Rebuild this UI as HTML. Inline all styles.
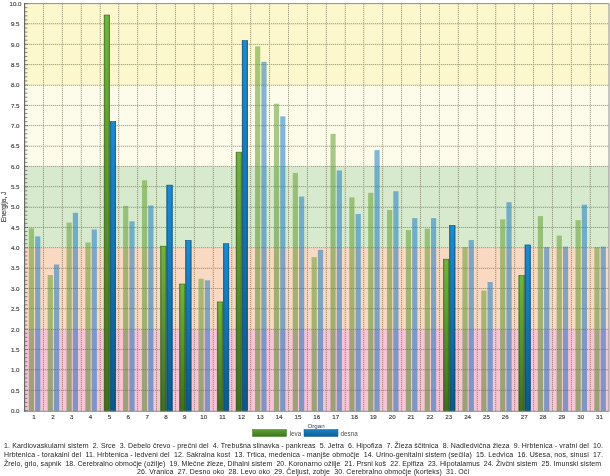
<!DOCTYPE html><html><head><meta charset="utf-8"><title>Chart</title><style>html,body{margin:0;padding:0;background:#fff}svg{display:block}text{font-family:"Liberation Sans",sans-serif}</style></head><body>
<svg width="610" height="476" viewBox="0 0 610 476">
<defs>
<linearGradient id="gv" x1="0" x2="0" y1="0" y2="1"><stop offset="0" stop-color="#70b63d"/><stop offset="1" stop-color="#3f6e20"/></linearGradient>
<linearGradient id="bv" x1="0" x2="0" y1="0" y2="1"><stop offset="0" stop-color="#1b8cd5"/><stop offset="1" stop-color="#0a5a88"/></linearGradient>
<linearGradient id="gd" x1="0" x2="0" y1="0" y2="1"><stop offset="0" stop-color="#64a032"/><stop offset="1" stop-color="#4f8428"/></linearGradient>
<linearGradient id="bd" x1="0" x2="0" y1="0" y2="1"><stop offset="0" stop-color="#1e7dc4"/><stop offset="1" stop-color="#1971b4"/></linearGradient>
<linearGradient id="eh" x1="0" x2="1" y1="0" y2="0"><stop offset="0" stop-color="#000" stop-opacity="0.22"/><stop offset="0.3" stop-color="#000" stop-opacity="0"/><stop offset="0.7" stop-color="#000" stop-opacity="0"/><stop offset="1" stop-color="#000" stop-opacity="0.22"/></linearGradient>
<linearGradient id="lg" x1="0" x2="0" y1="0" y2="1"><stop offset="0" stop-color="#5f9f31"/><stop offset="1" stop-color="#3f7520"/></linearGradient>
<linearGradient id="lb" x1="0" x2="0" y1="0" y2="1"><stop offset="0" stop-color="#1a80c4"/><stop offset="1" stop-color="#0e5e95"/></linearGradient>
</defs>
<rect width="610" height="476" fill="#fff"/>
<rect x="24.60" y="3.60" width="584.40" height="81.40" fill="#fcf7cd"/>
<rect x="24.60" y="85.00" width="584.40" height="81.40" fill="#fdfcea"/>
<rect x="24.60" y="166.40" width="584.40" height="81.40" fill="#d7eacd"/>
<rect x="24.60" y="247.80" width="584.40" height="81.40" fill="#f9d9c2"/>
<rect x="24.60" y="329.20" width="584.40" height="82.10" fill="#f7c3d5"/>
<g stroke="#6a6448" stroke-width="1" opacity="0.22"><line x1="24.60" y1="390.25" x2="609.00" y2="390.25"/><line x1="24.60" y1="369.90" x2="609.00" y2="369.90"/><line x1="24.60" y1="349.55" x2="609.00" y2="349.55"/><line x1="24.60" y1="329.20" x2="609.00" y2="329.20"/><line x1="24.60" y1="308.85" x2="609.00" y2="308.85"/><line x1="24.60" y1="288.50" x2="609.00" y2="288.50"/><line x1="24.60" y1="268.15" x2="609.00" y2="268.15"/><line x1="24.60" y1="247.80" x2="609.00" y2="247.80"/><line x1="24.60" y1="227.45" x2="609.00" y2="227.45"/><line x1="24.60" y1="207.10" x2="609.00" y2="207.10"/><line x1="24.60" y1="186.75" x2="609.00" y2="186.75"/><line x1="24.60" y1="166.40" x2="609.00" y2="166.40"/><line x1="24.60" y1="146.05" x2="609.00" y2="146.05"/><line x1="24.60" y1="125.70" x2="609.00" y2="125.70"/><line x1="24.60" y1="105.35" x2="609.00" y2="105.35"/><line x1="24.60" y1="85.00" x2="609.00" y2="85.00"/><line x1="24.60" y1="64.65" x2="609.00" y2="64.65"/><line x1="24.60" y1="44.30" x2="609.00" y2="44.30"/><line x1="24.60" y1="23.95" x2="609.00" y2="23.95"/><line x1="43.45" y1="3.60" x2="43.45" y2="411.30"/><line x1="62.30" y1="3.60" x2="62.30" y2="411.30"/><line x1="81.15" y1="3.60" x2="81.15" y2="411.30"/><line x1="100.01" y1="3.60" x2="100.01" y2="411.30"/><line x1="118.86" y1="3.60" x2="118.86" y2="411.30"/><line x1="137.71" y1="3.60" x2="137.71" y2="411.30"/><line x1="156.56" y1="3.60" x2="156.56" y2="411.30"/><line x1="175.41" y1="3.60" x2="175.41" y2="411.30"/><line x1="194.26" y1="3.60" x2="194.26" y2="411.30"/><line x1="213.12" y1="3.60" x2="213.12" y2="411.30"/><line x1="231.97" y1="3.60" x2="231.97" y2="411.30"/><line x1="250.82" y1="3.60" x2="250.82" y2="411.30"/><line x1="269.67" y1="3.60" x2="269.67" y2="411.30"/><line x1="288.52" y1="3.60" x2="288.52" y2="411.30"/><line x1="307.37" y1="3.60" x2="307.37" y2="411.30"/><line x1="326.23" y1="3.60" x2="326.23" y2="411.30"/><line x1="345.08" y1="3.60" x2="345.08" y2="411.30"/><line x1="363.93" y1="3.60" x2="363.93" y2="411.30"/><line x1="382.78" y1="3.60" x2="382.78" y2="411.30"/><line x1="401.63" y1="3.60" x2="401.63" y2="411.30"/><line x1="420.48" y1="3.60" x2="420.48" y2="411.30"/><line x1="439.34" y1="3.60" x2="439.34" y2="411.30"/><line x1="458.19" y1="3.60" x2="458.19" y2="411.30"/><line x1="477.04" y1="3.60" x2="477.04" y2="411.30"/><line x1="495.89" y1="3.60" x2="495.89" y2="411.30"/><line x1="514.74" y1="3.60" x2="514.74" y2="411.30"/><line x1="533.59" y1="3.60" x2="533.59" y2="411.30"/><line x1="552.45" y1="3.60" x2="552.45" y2="411.30"/><line x1="571.30" y1="3.60" x2="571.30" y2="411.30"/><line x1="590.15" y1="3.60" x2="590.15" y2="411.30"/></g>
<g stroke="#5a5440" stroke-width="1" stroke-dasharray="1 1" opacity="0.32" shape-rendering="crispEdges"><line x1="24.60" y1="390.25" x2="609.00" y2="390.25"/><line x1="24.60" y1="369.90" x2="609.00" y2="369.90"/><line x1="24.60" y1="349.55" x2="609.00" y2="349.55"/><line x1="24.60" y1="329.20" x2="609.00" y2="329.20"/><line x1="24.60" y1="308.85" x2="609.00" y2="308.85"/><line x1="24.60" y1="288.50" x2="609.00" y2="288.50"/><line x1="24.60" y1="268.15" x2="609.00" y2="268.15"/><line x1="24.60" y1="247.80" x2="609.00" y2="247.80"/><line x1="24.60" y1="227.45" x2="609.00" y2="227.45"/><line x1="24.60" y1="207.10" x2="609.00" y2="207.10"/><line x1="24.60" y1="186.75" x2="609.00" y2="186.75"/><line x1="24.60" y1="166.40" x2="609.00" y2="166.40"/><line x1="24.60" y1="146.05" x2="609.00" y2="146.05"/><line x1="24.60" y1="125.70" x2="609.00" y2="125.70"/><line x1="24.60" y1="105.35" x2="609.00" y2="105.35"/><line x1="24.60" y1="85.00" x2="609.00" y2="85.00"/><line x1="24.60" y1="64.65" x2="609.00" y2="64.65"/><line x1="24.60" y1="44.30" x2="609.00" y2="44.30"/><line x1="24.60" y1="23.95" x2="609.00" y2="23.95"/><line x1="43.45" y1="3.60" x2="43.45" y2="411.30"/><line x1="62.30" y1="3.60" x2="62.30" y2="411.30"/><line x1="81.15" y1="3.60" x2="81.15" y2="411.30"/><line x1="100.01" y1="3.60" x2="100.01" y2="411.30"/><line x1="118.86" y1="3.60" x2="118.86" y2="411.30"/><line x1="137.71" y1="3.60" x2="137.71" y2="411.30"/><line x1="156.56" y1="3.60" x2="156.56" y2="411.30"/><line x1="175.41" y1="3.60" x2="175.41" y2="411.30"/><line x1="194.26" y1="3.60" x2="194.26" y2="411.30"/><line x1="213.12" y1="3.60" x2="213.12" y2="411.30"/><line x1="231.97" y1="3.60" x2="231.97" y2="411.30"/><line x1="250.82" y1="3.60" x2="250.82" y2="411.30"/><line x1="269.67" y1="3.60" x2="269.67" y2="411.30"/><line x1="288.52" y1="3.60" x2="288.52" y2="411.30"/><line x1="307.37" y1="3.60" x2="307.37" y2="411.30"/><line x1="326.23" y1="3.60" x2="326.23" y2="411.30"/><line x1="345.08" y1="3.60" x2="345.08" y2="411.30"/><line x1="363.93" y1="3.60" x2="363.93" y2="411.30"/><line x1="382.78" y1="3.60" x2="382.78" y2="411.30"/><line x1="401.63" y1="3.60" x2="401.63" y2="411.30"/><line x1="420.48" y1="3.60" x2="420.48" y2="411.30"/><line x1="439.34" y1="3.60" x2="439.34" y2="411.30"/><line x1="458.19" y1="3.60" x2="458.19" y2="411.30"/><line x1="477.04" y1="3.60" x2="477.04" y2="411.30"/><line x1="495.89" y1="3.60" x2="495.89" y2="411.30"/><line x1="514.74" y1="3.60" x2="514.74" y2="411.30"/><line x1="533.59" y1="3.60" x2="533.59" y2="411.30"/><line x1="552.45" y1="3.60" x2="552.45" y2="411.30"/><line x1="571.30" y1="3.60" x2="571.30" y2="411.30"/><line x1="590.15" y1="3.60" x2="590.15" y2="411.30"/></g>
<rect x="28.83" y="228.26" width="5.20" height="183.04" fill="url(#gd)" opacity="0.55"/>
<rect x="35.13" y="236.40" width="5.20" height="174.90" fill="url(#bd)" opacity="0.55"/>
<rect x="47.68" y="275.07" width="5.20" height="136.23" fill="url(#gd)" opacity="0.55"/>
<rect x="53.98" y="264.49" width="5.20" height="146.81" fill="url(#bd)" opacity="0.55"/>
<rect x="66.53" y="222.57" width="5.20" height="188.73" fill="url(#gd)" opacity="0.55"/>
<rect x="72.83" y="212.80" width="5.20" height="198.50" fill="url(#bd)" opacity="0.55"/>
<rect x="85.38" y="242.51" width="5.20" height="168.79" fill="url(#gd)" opacity="0.55"/>
<rect x="91.68" y="229.49" width="5.20" height="181.81" fill="url(#bd)" opacity="0.55"/>
<rect x="104.13" y="15.00" width="5.50" height="396.30" fill="url(#gv)"/><rect x="104.13" y="15.00" width="5.50" height="396.30" fill="url(#eh)" stroke="#386619" stroke-width="0.6"/>
<rect x="110.23" y="121.63" width="5.50" height="289.67" fill="url(#bv)"/><rect x="110.23" y="121.63" width="5.50" height="289.67" fill="url(#eh)" stroke="#0a4f7c" stroke-width="0.6"/>
<rect x="123.08" y="205.88" width="5.20" height="205.42" fill="url(#gd)" opacity="0.55"/>
<rect x="129.38" y="221.34" width="5.20" height="189.96" fill="url(#bd)" opacity="0.55"/>
<rect x="141.94" y="180.24" width="5.20" height="231.06" fill="url(#gd)" opacity="0.55"/>
<rect x="148.24" y="205.47" width="5.20" height="205.83" fill="url(#bd)" opacity="0.55"/>
<rect x="160.69" y="246.17" width="5.50" height="165.13" fill="url(#gv)"/><rect x="160.69" y="246.17" width="5.50" height="165.13" fill="url(#eh)" stroke="#386619" stroke-width="0.6"/>
<rect x="166.79" y="185.12" width="5.50" height="226.18" fill="url(#bv)"/><rect x="166.79" y="185.12" width="5.50" height="226.18" fill="url(#eh)" stroke="#0a4f7c" stroke-width="0.6"/>
<rect x="179.54" y="284.02" width="5.50" height="127.28" fill="url(#gv)"/><rect x="179.54" y="284.02" width="5.50" height="127.28" fill="url(#eh)" stroke="#386619" stroke-width="0.6"/>
<rect x="185.64" y="240.47" width="5.50" height="170.83" fill="url(#bv)"/><rect x="185.64" y="240.47" width="5.50" height="170.83" fill="url(#eh)" stroke="#0a4f7c" stroke-width="0.6"/>
<rect x="198.49" y="278.73" width="5.20" height="132.57" fill="url(#gd)" opacity="0.55"/>
<rect x="204.79" y="280.36" width="5.20" height="130.94" fill="url(#bd)" opacity="0.55"/>
<rect x="217.24" y="301.93" width="5.50" height="109.37" fill="url(#gv)"/><rect x="217.24" y="301.93" width="5.50" height="109.37" fill="url(#eh)" stroke="#386619" stroke-width="0.6"/>
<rect x="223.34" y="243.73" width="5.50" height="167.57" fill="url(#bv)"/><rect x="223.34" y="243.73" width="5.50" height="167.57" fill="url(#eh)" stroke="#0a4f7c" stroke-width="0.6"/>
<rect x="236.09" y="152.16" width="5.50" height="259.14" fill="url(#gv)"/><rect x="236.09" y="152.16" width="5.50" height="259.14" fill="url(#eh)" stroke="#386619" stroke-width="0.6"/>
<rect x="242.19" y="40.64" width="5.50" height="370.66" fill="url(#bv)"/><rect x="242.19" y="40.64" width="5.50" height="370.66" fill="url(#eh)" stroke="#0a4f7c" stroke-width="0.6"/>
<rect x="255.05" y="46.34" width="5.20" height="364.96" fill="url(#gd)" opacity="0.55"/>
<rect x="261.35" y="61.80" width="5.20" height="349.50" fill="url(#bd)" opacity="0.55"/>
<rect x="273.90" y="103.72" width="5.20" height="307.58" fill="url(#gd)" opacity="0.55"/>
<rect x="280.20" y="116.34" width="5.20" height="294.96" fill="url(#bd)" opacity="0.55"/>
<rect x="292.75" y="172.91" width="5.20" height="238.39" fill="url(#gd)" opacity="0.55"/>
<rect x="299.05" y="196.52" width="5.20" height="214.78" fill="url(#bd)" opacity="0.55"/>
<rect x="311.60" y="257.16" width="5.20" height="154.14" fill="url(#gd)" opacity="0.55"/>
<rect x="317.90" y="249.84" width="5.20" height="161.47" fill="url(#bd)" opacity="0.55"/>
<rect x="330.45" y="133.84" width="5.20" height="277.46" fill="url(#gd)" opacity="0.55"/>
<rect x="336.75" y="170.47" width="5.20" height="240.83" fill="url(#bd)" opacity="0.55"/>
<rect x="349.30" y="197.33" width="5.20" height="213.97" fill="url(#gd)" opacity="0.55"/>
<rect x="355.60" y="214.02" width="5.20" height="197.28" fill="url(#bd)" opacity="0.55"/>
<rect x="368.15" y="192.86" width="5.20" height="218.44" fill="url(#gd)" opacity="0.55"/>
<rect x="374.45" y="150.12" width="5.20" height="261.18" fill="url(#bd)" opacity="0.55"/>
<rect x="387.01" y="209.95" width="5.20" height="201.35" fill="url(#gd)" opacity="0.55"/>
<rect x="393.31" y="191.23" width="5.20" height="220.07" fill="url(#bd)" opacity="0.55"/>
<rect x="405.86" y="229.89" width="5.20" height="181.41" fill="url(#gd)" opacity="0.55"/>
<rect x="412.16" y="218.09" width="5.20" height="193.21" fill="url(#bd)" opacity="0.55"/>
<rect x="424.71" y="228.67" width="5.20" height="182.63" fill="url(#gd)" opacity="0.55"/>
<rect x="431.01" y="218.09" width="5.20" height="193.21" fill="url(#bd)" opacity="0.55"/>
<rect x="443.46" y="259.20" width="5.50" height="152.10" fill="url(#gv)"/><rect x="443.46" y="259.20" width="5.50" height="152.10" fill="url(#eh)" stroke="#386619" stroke-width="0.6"/>
<rect x="449.56" y="225.42" width="5.50" height="185.88" fill="url(#bv)"/><rect x="449.56" y="225.42" width="5.50" height="185.88" fill="url(#eh)" stroke="#0a4f7c" stroke-width="0.6"/>
<rect x="462.41" y="246.99" width="5.20" height="164.31" fill="url(#gd)" opacity="0.55"/>
<rect x="468.71" y="240.07" width="5.20" height="171.23" fill="url(#bd)" opacity="0.55"/>
<rect x="481.26" y="290.54" width="5.20" height="120.76" fill="url(#gd)" opacity="0.55"/>
<rect x="487.56" y="281.99" width="5.20" height="129.31" fill="url(#bd)" opacity="0.55"/>
<rect x="500.12" y="219.31" width="5.20" height="191.99" fill="url(#gd)" opacity="0.55"/>
<rect x="506.42" y="202.22" width="5.20" height="209.08" fill="url(#bd)" opacity="0.55"/>
<rect x="518.87" y="275.48" width="5.50" height="135.82" fill="url(#gv)"/><rect x="518.87" y="275.48" width="5.50" height="135.82" fill="url(#eh)" stroke="#386619" stroke-width="0.6"/>
<rect x="524.97" y="244.95" width="5.50" height="166.35" fill="url(#bv)"/><rect x="524.97" y="244.95" width="5.50" height="166.35" fill="url(#eh)" stroke="#0a4f7c" stroke-width="0.6"/>
<rect x="537.82" y="216.05" width="5.20" height="195.25" fill="url(#gd)" opacity="0.55"/>
<rect x="544.12" y="246.99" width="5.20" height="164.31" fill="url(#bd)" opacity="0.55"/>
<rect x="556.67" y="235.59" width="5.20" height="175.71" fill="url(#gd)" opacity="0.55"/>
<rect x="562.97" y="246.58" width="5.20" height="164.72" fill="url(#bd)" opacity="0.55"/>
<rect x="575.52" y="220.12" width="5.20" height="191.18" fill="url(#gd)" opacity="0.55"/>
<rect x="581.82" y="204.66" width="5.20" height="206.64" fill="url(#bd)" opacity="0.55"/>
<rect x="594.37" y="246.99" width="5.20" height="164.31" fill="url(#gd)" opacity="0.55"/>
<rect x="600.67" y="246.58" width="5.20" height="164.72" fill="url(#bd)" opacity="0.55"/>
<path d="M24.60 3.60 H609.00 V411.30 H24.60" fill="none" stroke="#8e8e8e" stroke-width="1"/>
<line x1="24.60" y1="3.10" x2="24.60" y2="411.80" stroke="#626262" stroke-width="1.1"/>
<g stroke="#666" stroke-width="0.8"><line x1="24.60" y1="410.60" x2="28.00" y2="410.60"/><line x1="24.60" y1="406.53" x2="27.40" y2="406.53"/><line x1="24.60" y1="402.46" x2="27.40" y2="402.46"/><line x1="24.60" y1="398.39" x2="27.40" y2="398.39"/><line x1="24.60" y1="394.32" x2="27.40" y2="394.32"/><line x1="24.60" y1="390.25" x2="28.00" y2="390.25"/><line x1="24.60" y1="386.18" x2="27.40" y2="386.18"/><line x1="24.60" y1="382.11" x2="27.40" y2="382.11"/><line x1="24.60" y1="378.04" x2="27.40" y2="378.04"/><line x1="24.60" y1="373.97" x2="27.40" y2="373.97"/><line x1="24.60" y1="369.90" x2="28.00" y2="369.90"/><line x1="24.60" y1="365.83" x2="27.40" y2="365.83"/><line x1="24.60" y1="361.76" x2="27.40" y2="361.76"/><line x1="24.60" y1="357.69" x2="27.40" y2="357.69"/><line x1="24.60" y1="353.62" x2="27.40" y2="353.62"/><line x1="24.60" y1="349.55" x2="28.00" y2="349.55"/><line x1="24.60" y1="345.48" x2="27.40" y2="345.48"/><line x1="24.60" y1="341.41" x2="27.40" y2="341.41"/><line x1="24.60" y1="337.34" x2="27.40" y2="337.34"/><line x1="24.60" y1="333.27" x2="27.40" y2="333.27"/><line x1="24.60" y1="329.20" x2="28.00" y2="329.20"/><line x1="24.60" y1="325.13" x2="27.40" y2="325.13"/><line x1="24.60" y1="321.06" x2="27.40" y2="321.06"/><line x1="24.60" y1="316.99" x2="27.40" y2="316.99"/><line x1="24.60" y1="312.92" x2="27.40" y2="312.92"/><line x1="24.60" y1="308.85" x2="28.00" y2="308.85"/><line x1="24.60" y1="304.78" x2="27.40" y2="304.78"/><line x1="24.60" y1="300.71" x2="27.40" y2="300.71"/><line x1="24.60" y1="296.64" x2="27.40" y2="296.64"/><line x1="24.60" y1="292.57" x2="27.40" y2="292.57"/><line x1="24.60" y1="288.50" x2="28.00" y2="288.50"/><line x1="24.60" y1="284.43" x2="27.40" y2="284.43"/><line x1="24.60" y1="280.36" x2="27.40" y2="280.36"/><line x1="24.60" y1="276.29" x2="27.40" y2="276.29"/><line x1="24.60" y1="272.22" x2="27.40" y2="272.22"/><line x1="24.60" y1="268.15" x2="28.00" y2="268.15"/><line x1="24.60" y1="264.08" x2="27.40" y2="264.08"/><line x1="24.60" y1="260.01" x2="27.40" y2="260.01"/><line x1="24.60" y1="255.94" x2="27.40" y2="255.94"/><line x1="24.60" y1="251.87" x2="27.40" y2="251.87"/><line x1="24.60" y1="247.80" x2="28.00" y2="247.80"/><line x1="24.60" y1="243.73" x2="27.40" y2="243.73"/><line x1="24.60" y1="239.66" x2="27.40" y2="239.66"/><line x1="24.60" y1="235.59" x2="27.40" y2="235.59"/><line x1="24.60" y1="231.52" x2="27.40" y2="231.52"/><line x1="24.60" y1="227.45" x2="28.00" y2="227.45"/><line x1="24.60" y1="223.38" x2="27.40" y2="223.38"/><line x1="24.60" y1="219.31" x2="27.40" y2="219.31"/><line x1="24.60" y1="215.24" x2="27.40" y2="215.24"/><line x1="24.60" y1="211.17" x2="27.40" y2="211.17"/><line x1="24.60" y1="207.10" x2="28.00" y2="207.10"/><line x1="24.60" y1="203.03" x2="27.40" y2="203.03"/><line x1="24.60" y1="198.96" x2="27.40" y2="198.96"/><line x1="24.60" y1="194.89" x2="27.40" y2="194.89"/><line x1="24.60" y1="190.82" x2="27.40" y2="190.82"/><line x1="24.60" y1="186.75" x2="28.00" y2="186.75"/><line x1="24.60" y1="182.68" x2="27.40" y2="182.68"/><line x1="24.60" y1="178.61" x2="27.40" y2="178.61"/><line x1="24.60" y1="174.54" x2="27.40" y2="174.54"/><line x1="24.60" y1="170.47" x2="27.40" y2="170.47"/><line x1="24.60" y1="166.40" x2="28.00" y2="166.40"/><line x1="24.60" y1="162.33" x2="27.40" y2="162.33"/><line x1="24.60" y1="158.26" x2="27.40" y2="158.26"/><line x1="24.60" y1="154.19" x2="27.40" y2="154.19"/><line x1="24.60" y1="150.12" x2="27.40" y2="150.12"/><line x1="24.60" y1="146.05" x2="28.00" y2="146.05"/><line x1="24.60" y1="141.98" x2="27.40" y2="141.98"/><line x1="24.60" y1="137.91" x2="27.40" y2="137.91"/><line x1="24.60" y1="133.84" x2="27.40" y2="133.84"/><line x1="24.60" y1="129.77" x2="27.40" y2="129.77"/><line x1="24.60" y1="125.70" x2="28.00" y2="125.70"/><line x1="24.60" y1="121.63" x2="27.40" y2="121.63"/><line x1="24.60" y1="117.56" x2="27.40" y2="117.56"/><line x1="24.60" y1="113.49" x2="27.40" y2="113.49"/><line x1="24.60" y1="109.42" x2="27.40" y2="109.42"/><line x1="24.60" y1="105.35" x2="28.00" y2="105.35"/><line x1="24.60" y1="101.28" x2="27.40" y2="101.28"/><line x1="24.60" y1="97.21" x2="27.40" y2="97.21"/><line x1="24.60" y1="93.14" x2="27.40" y2="93.14"/><line x1="24.60" y1="89.07" x2="27.40" y2="89.07"/><line x1="24.60" y1="85.00" x2="28.00" y2="85.00"/><line x1="24.60" y1="80.93" x2="27.40" y2="80.93"/><line x1="24.60" y1="76.86" x2="27.40" y2="76.86"/><line x1="24.60" y1="72.79" x2="27.40" y2="72.79"/><line x1="24.60" y1="68.72" x2="27.40" y2="68.72"/><line x1="24.60" y1="64.65" x2="28.00" y2="64.65"/><line x1="24.60" y1="60.58" x2="27.40" y2="60.58"/><line x1="24.60" y1="56.51" x2="27.40" y2="56.51"/><line x1="24.60" y1="52.44" x2="27.40" y2="52.44"/><line x1="24.60" y1="48.37" x2="27.40" y2="48.37"/><line x1="24.60" y1="44.30" x2="28.00" y2="44.30"/><line x1="24.60" y1="40.23" x2="27.40" y2="40.23"/><line x1="24.60" y1="36.16" x2="27.40" y2="36.16"/><line x1="24.60" y1="32.09" x2="27.40" y2="32.09"/><line x1="24.60" y1="28.02" x2="27.40" y2="28.02"/><line x1="24.60" y1="23.95" x2="28.00" y2="23.95"/><line x1="24.60" y1="19.88" x2="27.40" y2="19.88"/><line x1="24.60" y1="15.81" x2="27.40" y2="15.81"/><line x1="24.60" y1="11.74" x2="27.40" y2="11.74"/><line x1="24.60" y1="7.67" x2="27.40" y2="7.67"/><line x1="24.60" y1="3.60" x2="28.00" y2="3.60"/></g>
<text x="19.5" y="412.90" font-size="6.2" fill="#444" stroke="#444" stroke-width="0.15" text-anchor="end">0.0</text>
<text x="19.5" y="392.55" font-size="6.2" fill="#444" stroke="#444" stroke-width="0.15" text-anchor="end">0.5</text>
<text x="19.5" y="372.20" font-size="6.2" fill="#444" stroke="#444" stroke-width="0.15" text-anchor="end">1.0</text>
<text x="19.5" y="351.85" font-size="6.2" fill="#444" stroke="#444" stroke-width="0.15" text-anchor="end">1.5</text>
<text x="19.5" y="331.50" font-size="6.2" fill="#444" stroke="#444" stroke-width="0.15" text-anchor="end">2.0</text>
<text x="19.5" y="311.15" font-size="6.2" fill="#444" stroke="#444" stroke-width="0.15" text-anchor="end">2.5</text>
<text x="19.5" y="290.80" font-size="6.2" fill="#444" stroke="#444" stroke-width="0.15" text-anchor="end">3.0</text>
<text x="19.5" y="270.45" font-size="6.2" fill="#444" stroke="#444" stroke-width="0.15" text-anchor="end">3.5</text>
<text x="19.5" y="250.10" font-size="6.2" fill="#444" stroke="#444" stroke-width="0.15" text-anchor="end">4.0</text>
<text x="19.5" y="229.75" font-size="6.2" fill="#444" stroke="#444" stroke-width="0.15" text-anchor="end">4.5</text>
<text x="19.5" y="209.40" font-size="6.2" fill="#444" stroke="#444" stroke-width="0.15" text-anchor="end">5.0</text>
<text x="19.5" y="189.05" font-size="6.2" fill="#444" stroke="#444" stroke-width="0.15" text-anchor="end">5.5</text>
<text x="19.5" y="168.70" font-size="6.2" fill="#444" stroke="#444" stroke-width="0.15" text-anchor="end">6.0</text>
<text x="19.5" y="148.35" font-size="6.2" fill="#444" stroke="#444" stroke-width="0.15" text-anchor="end">6.5</text>
<text x="19.5" y="128.00" font-size="6.2" fill="#444" stroke="#444" stroke-width="0.15" text-anchor="end">7.0</text>
<text x="19.5" y="107.65" font-size="6.2" fill="#444" stroke="#444" stroke-width="0.15" text-anchor="end">7.5</text>
<text x="19.5" y="87.30" font-size="6.2" fill="#444" stroke="#444" stroke-width="0.15" text-anchor="end">8.0</text>
<text x="19.5" y="66.95" font-size="6.2" fill="#444" stroke="#444" stroke-width="0.15" text-anchor="end">8.5</text>
<text x="19.5" y="46.60" font-size="6.2" fill="#444" stroke="#444" stroke-width="0.15" text-anchor="end">9.0</text>
<text x="19.5" y="26.25" font-size="6.2" fill="#444" stroke="#444" stroke-width="0.15" text-anchor="end">9.5</text>
<text x="21.5" y="5.90" font-size="6.2" fill="#444" stroke="#444" stroke-width="0.15" text-anchor="end">10.0</text>
<text x="34.03" y="419.1" font-size="6.2" fill="#444" stroke="#444" stroke-width="0.15" text-anchor="middle">1</text>
<text x="52.88" y="419.1" font-size="6.2" fill="#444" stroke="#444" stroke-width="0.15" text-anchor="middle">2</text>
<text x="71.73" y="419.1" font-size="6.2" fill="#444" stroke="#444" stroke-width="0.15" text-anchor="middle">3</text>
<text x="90.58" y="419.1" font-size="6.2" fill="#444" stroke="#444" stroke-width="0.15" text-anchor="middle">4</text>
<text x="109.43" y="419.1" font-size="6.2" fill="#444" stroke="#444" stroke-width="0.15" text-anchor="middle">5</text>
<text x="128.28" y="419.1" font-size="6.2" fill="#444" stroke="#444" stroke-width="0.15" text-anchor="middle">6</text>
<text x="147.14" y="419.1" font-size="6.2" fill="#444" stroke="#444" stroke-width="0.15" text-anchor="middle">7</text>
<text x="165.99" y="419.1" font-size="6.2" fill="#444" stroke="#444" stroke-width="0.15" text-anchor="middle">8</text>
<text x="184.84" y="419.1" font-size="6.2" fill="#444" stroke="#444" stroke-width="0.15" text-anchor="middle">9</text>
<text x="203.69" y="419.1" font-size="6.2" fill="#444" stroke="#444" stroke-width="0.15" text-anchor="middle">10</text>
<text x="222.54" y="419.1" font-size="6.2" fill="#444" stroke="#444" stroke-width="0.15" text-anchor="middle">11</text>
<text x="241.39" y="419.1" font-size="6.2" fill="#444" stroke="#444" stroke-width="0.15" text-anchor="middle">12</text>
<text x="260.25" y="419.1" font-size="6.2" fill="#444" stroke="#444" stroke-width="0.15" text-anchor="middle">13</text>
<text x="279.10" y="419.1" font-size="6.2" fill="#444" stroke="#444" stroke-width="0.15" text-anchor="middle">14</text>
<text x="297.95" y="419.1" font-size="6.2" fill="#444" stroke="#444" stroke-width="0.15" text-anchor="middle">15</text>
<text x="316.80" y="419.1" font-size="6.2" fill="#444" stroke="#444" stroke-width="0.15" text-anchor="middle">16</text>
<text x="335.65" y="419.1" font-size="6.2" fill="#444" stroke="#444" stroke-width="0.15" text-anchor="middle">17</text>
<text x="354.50" y="419.1" font-size="6.2" fill="#444" stroke="#444" stroke-width="0.15" text-anchor="middle">18</text>
<text x="373.35" y="419.1" font-size="6.2" fill="#444" stroke="#444" stroke-width="0.15" text-anchor="middle">19</text>
<text x="392.21" y="419.1" font-size="6.2" fill="#444" stroke="#444" stroke-width="0.15" text-anchor="middle">20</text>
<text x="411.06" y="419.1" font-size="6.2" fill="#444" stroke="#444" stroke-width="0.15" text-anchor="middle">21</text>
<text x="429.91" y="419.1" font-size="6.2" fill="#444" stroke="#444" stroke-width="0.15" text-anchor="middle">22</text>
<text x="448.76" y="419.1" font-size="6.2" fill="#444" stroke="#444" stroke-width="0.15" text-anchor="middle">23</text>
<text x="467.61" y="419.1" font-size="6.2" fill="#444" stroke="#444" stroke-width="0.15" text-anchor="middle">24</text>
<text x="486.46" y="419.1" font-size="6.2" fill="#444" stroke="#444" stroke-width="0.15" text-anchor="middle">25</text>
<text x="505.32" y="419.1" font-size="6.2" fill="#444" stroke="#444" stroke-width="0.15" text-anchor="middle">26</text>
<text x="524.17" y="419.1" font-size="6.2" fill="#444" stroke="#444" stroke-width="0.15" text-anchor="middle">27</text>
<text x="543.02" y="419.1" font-size="6.2" fill="#444" stroke="#444" stroke-width="0.15" text-anchor="middle">28</text>
<text x="561.87" y="419.1" font-size="6.2" fill="#444" stroke="#444" stroke-width="0.15" text-anchor="middle">29</text>
<text x="580.72" y="419.1" font-size="6.2" fill="#444" stroke="#444" stroke-width="0.15" text-anchor="middle">30</text>
<text x="599.57" y="419.1" font-size="6.2" fill="#444" stroke="#444" stroke-width="0.15" text-anchor="middle">31</text>
<text transform="translate(6.2,207) rotate(-90)" font-size="6.5" fill="#4a4a4a" stroke="#4a4a4a" stroke-width="0.15" text-anchor="middle">Energija, J</text>
<text x="316" y="428.3" font-size="6.2" fill="#2f3d68" text-anchor="middle">Organ</text>
<rect x="252.5" y="429.5" width="34" height="7" fill="url(#lg)" stroke="#3f7a20" stroke-width="0.5"/>
<text x="289.7" y="435.6" font-size="6.3" fill="#505050">leva</text>
<rect x="304" y="429.5" width="34" height="7" fill="url(#lb)" stroke="#0f5a90" stroke-width="0.5"/>
<text x="340.6" y="435.6" font-size="6.3" fill="#505050">desna</text>
<text x="4.0" y="448.2" font-size="7.0" fill="#1c1c1c" xml:space="preserve" textLength="599.0" lengthAdjust="spacing">1. Kardiovaskularni sistem  2. Srce  3. Debelo črevo - prečni del  4. Trebušna slinavka - pankreas  5. Jetra  6. Hipofiza  7. Žleza ščitnica  8. Nadledvična žleza  9. Hrbtenica - vratni del  10.</text>
<text x="4.0" y="456.9" font-size="7.0" fill="#1c1c1c" xml:space="preserve" textLength="599.0" lengthAdjust="spacing">Hrbtenica - torakalni del  11. Hrbtenica - ledveni del  12. Sakralna kost  13. Trtica, medenica - manjše območje  14. Urino-genitalni sistem (sečila)  15. Ledvica  16. Ušesa, nos, sinusi  17.</text>
<text x="4.0" y="465.6" font-size="7.0" fill="#1c1c1c" xml:space="preserve" textLength="597.0" lengthAdjust="spacing">Žrelo, grlo, sapnik  18. Cerebralno območje (ožilje)  19. Mlečne žleze, Dihalni sistem  20. Koronarno ožilje  21. Prsni koš  22. Epifiza  23. Hipotalamus  24. Živčni sistem  25. Imunski sistem</text>
<text x="137.0" y="474.3" font-size="7.0" fill="#1c1c1c" xml:space="preserve" textLength="332.0" lengthAdjust="spacing">26. Vranica  27. Desno oko  28. Levo oko  29. Čeljust, zobje  30. Cerebralno območje (korteks)  31. Oči</text>
</svg></body></html>
